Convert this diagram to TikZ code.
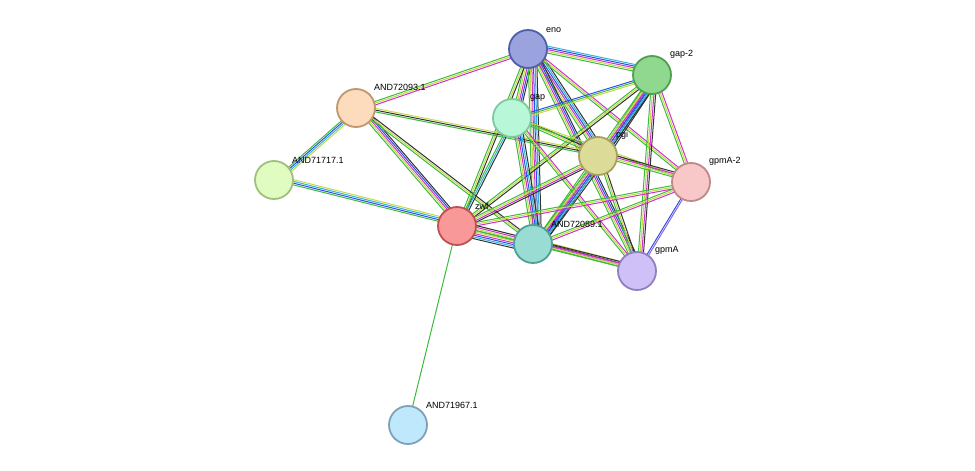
\documentclass[tikz,border=0pt]{standalone}
\usepackage{fontspec}
\setmainfont{Liberation Sans}
\usetikzlibrary{calc}
\definecolor{lgreen}{HTML}{3DBB3D}
\definecolor{lyellow}{HTML}{C5D84A}
\definecolor{lblue}{HTML}{2E4FE6}
\definecolor{lmag}{HTML}{CC33CC}
\definecolor{lcyan}{HTML}{33B3D6}
\definecolor{lpurple}{HTML}{8866DD}
\definecolor{lblack}{HTML}{333333}
\tikzset{
  prot/.style={circle, minimum size=38pt, inner sep=0pt, line width=1.8pt},
  lab/.style={font=\fontsize{9}{10.5}\selectfont, anchor=south west, inner sep=1pt},
  edge/.style={line width=1pt},
}
% bundle of parallel coloured lines between two nodes
\newcommand{\lnk}[3]{%
  \foreach \c [count=\i] in {#3} {
    \pgfmathsetmacro{\off}{(\i-1)*1.7}
    \draw[edge, \c] ($(#1)!\off pt!90:(#2)$) -- ($(#2)!\off pt!-90:(#1)$);
  }}
\begin{document}
\begin{tikzpicture}[x=1pt, y=-1pt]
\useasboundingbox (0,0) rectangle (975,471);

\coordinate (eno) at (528,49);
\coordinate (gaptwo) at (652,75);
\coordinate (p93) at (356,108);
\coordinate (gap) at (512,118);
\coordinate (pgi) at (598,156);
\coordinate (p17) at (274,180);
\coordinate (gpmAtwo) at (691,182);
\coordinate (zwf) at (457,226);
\coordinate (p89) at (533,244);
\coordinate (gpmA) at (637,271);
\coordinate (p67) at (408,425);

% edges
\lnk{zwf}{p67}{lgreen}
\lnk{eno}{gaptwo}{lgreen,lyellow,lmag,lblue,lcyan}
\lnk{eno}{p93}{lgreen,lyellow,lmag}
\lnk{eno}{gap}{lgreen,lyellow,lmag,lblue,lblack}
\lnk{eno}{pgi}{lgreen,lyellow,lmag,lblue,lcyan,lblack}
\lnk{eno}{gpmAtwo}{lgreen,lyellow,lmag}
\lnk{eno}{p89}{lgreen,lyellow,lmag,lblue,lcyan,lblack}
\lnk{eno}{gpmA}{lgreen,lyellow,lmag,lblue,lblack}
\lnk{eno}{zwf}{lgreen,lyellow,lblack}
\lnk{gaptwo}{gap}{lblue,lgreen,lyellow}
\lnk{gaptwo}{pgi}{lgreen,lyellow,lmag,lblue,lcyan,lblack}
\lnk{gaptwo}{gpmAtwo}{lgreen,lyellow,lmag}
\lnk{gaptwo}{p89}{lgreen,lyellow,lmag,lblue,lcyan,lblack}
\lnk{gaptwo}{gpmA}{lgreen,lyellow,lmag,lblack}
\lnk{gaptwo}{zwf}{lgreen,lyellow,lblack}
\lnk{p93}{zwf}{lgreen,lyellow,lmag,lblue,lblack}
\lnk{p93}{pgi}{lgreen,lblack,lyellow}
\lnk{p93}{p17}{lgreen,lblue,lcyan,lyellow}
\lnk{p93}{p89}{lgreen,lyellow,lblack}
\lnk{gap}{pgi}{lgreen,lyellow,lblack}
\lnk{gap}{p89}{lgreen,lyellow,lmag,lblue,lcyan,lblack}
\lnk{gap}{zwf}{lgreen,lcyan,lblack}
\lnk{gap}{gpmA}{lgreen,lyellow,lmag}
\lnk{gap}{gpmAtwo}{lgreen,lyellow}
\lnk{pgi}{gpmAtwo}{lgreen,lyellow,lmag,lblack}
\lnk{pgi}{p89}{lgreen,lyellow,lmag,lblue,lcyan,lblack}
\lnk{pgi}{zwf}{lgreen,lyellow,lmag,lblack}
\lnk{pgi}{gpmA}{lgreen,lyellow,lblack}
\lnk{gpmAtwo}{p89}{lgreen,lyellow,lmag}
\lnk{gpmAtwo}{gpmA}{lblue,lpurple}
\lnk{gpmAtwo}{zwf}{lgreen,lyellow,lmag}
\lnk{p17}{zwf}{lgreen,lblue,lcyan,lyellow}
\lnk{p89}{zwf}{lgreen,lyellow,lmag,lblue,lcyan,lblack}
\lnk{p89}{gpmA}{lgreen,lmag,lblack,lyellow}
\lnk{zwf}{gpmA}{lgreen,lyellow,lmag,lblack}

% proteins
\node[prot, fill={rgb,255:red,155;green,163;blue,222}, draw={rgb,255:red,80;green,96;blue,168}] (n-eno) at (eno) {};
\node[prot, fill={rgb,255:red,144;green,216;blue,144}, draw={rgb,255:red,80;green,160;blue,80}] (n-gaptwo) at (gaptwo) {};
\node[prot, fill={rgb,255:red,252;green,220;blue,188}, draw={rgb,255:red,192;green,152;blue,112}] (n-p93) at (p93) {};
\node[prot, fill={rgb,255:red,184;green,248;blue,216}, draw={rgb,255:red,128;green,200;blue,160}] (n-gap) at (gap) {};
\node[prot, fill={rgb,255:red,220;green,220;blue,152}, draw={rgb,255:red,168;green,160;blue,96}] (n-pgi) at (pgi) {};
\node[prot, fill={rgb,255:red,224;green,252;blue,192}, draw={rgb,255:red,160;green,192;blue,128}] (n-p17) at (p17) {};
\node[prot, fill={rgb,255:red,248;green,200;blue,200}, draw={rgb,255:red,192;green,136;blue,136}] (n-gpmAtwo) at (gpmAtwo) {};
\node[prot, fill={rgb,255:red,248;green,152;blue,152}, draw={rgb,255:red,192;green,80;blue,80}] (n-zwf) at (zwf) {};
\node[prot, fill={rgb,255:red,152;green,220;blue,212}, draw={rgb,255:red,80;green,160;blue,152}] (n-p89) at (p89) {};
\node[prot, fill={rgb,255:red,208;green,192;blue,248}, draw={rgb,255:red,144;green,128;blue,192}] (n-gpmA) at (gpmA) {};
\node[prot, fill={rgb,255:red,192;green,232;blue,252}, draw={rgb,255:red,128;green,160;blue,184}] (n-p67) at (p67) {};

% labels
\node[lab] at ($(eno)+(17,-15)$) {eno};
\node[lab] at ($(gaptwo)+(17,-15)$) {gap-2};
\node[lab] at ($(p93)+(17,-16)$) {AND72093.1};
\node[lab] at ($(gap)+(17,-15)$) {gap};
\node[lab] at ($(pgi)+(17,-15)$) {pgi};
\node[lab] at ($(p17)+(17,-15)$) {AND71717.1};
\node[lab] at ($(gpmAtwo)+(17,-15)$) {gpmA-2};
\node[lab] at ($(zwf)+(17,-15)$) {zwf};
\node[lab] at ($(p89)+(17,-15)$) {AND72089.1};
\node[lab] at ($(gpmA)+(17,-15)$) {gpmA};
\node[lab] at ($(p67)+(17,-15)$) {AND71967.1};
\end{tikzpicture}
\end{document}
